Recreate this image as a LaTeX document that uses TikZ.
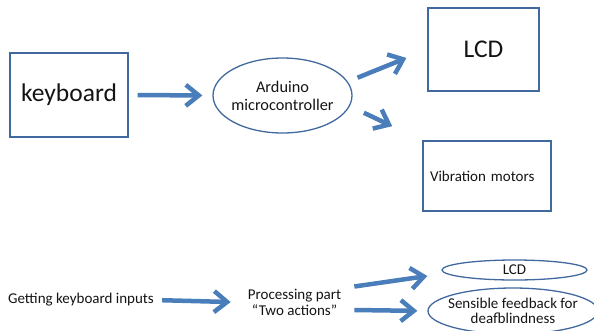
\documentclass[tikz,border=0pt]{standalone}
\usepackage{fontspec}
\setmainfont{Carlito}
\usetikzlibrary{shapes.geometric,arrows.meta}
\definecolor{boxblue}{HTML}{41699F}
\definecolor{arrowblue}{HTML}{4A7EBB}
\definecolor{inktext}{HTML}{141414}

\begin{document}
\begin{tikzpicture}[x=1pt,y=-1pt,
          every node/.style={inner sep=0pt,text=inktext},
          box/.style={draw=boxblue,line width=1.3pt},
          oval/.style={ellipse,draw=boxblue,line width=1.3pt},
          arr/.style={draw=arrowblue,line width=4.5pt,
            -{Straight Barb[length=13pt,width=21pt]}},
          bigtxt/.style={font=\fontsize{25.5}{30}\selectfont},
          smalltxt/.style={font=\fontsize{15}{15.5}\selectfont,align=center}]
        \useasboundingbox (0,0) rectangle (594,330);
        \node[box,bigtxt,minimum width=118pt,minimum height=84pt] (kb) at (69,95) {keyboard};
        \node[oval,minimum width=139pt,minimum height=75pt,
          label={[font=\fontsize{16.3}{18}\selectfont,align=center]center:Arduino\\microcontroller}]
          (ard) at (282.5,95.5) {};
        \node[box,bigtxt,minimum width=111pt,minimum height=83pt] (lcd) at (483.5,49.5) {LCD};
        \node[box,smalltxt,align=left,text width=114pt,minimum width=128pt,minimum height=70pt]
          (vib) at (487,176) {Vibration motors};
        \draw[arr,shorten <=9pt,shorten >=10pt] (kb.east) -- (ard.west);
        \draw[arr,shorten <=10.5pt,shorten >=22.6pt] (ard.12) -- (lcd.west);
        \draw[arr,shorten <=15.5pt,shorten >=33.3pt] (ard.-9) -- (vib.north west);

        \node[smalltxt] (gki) at (81,300) {Getting keyboard inputs};
        \node[smalltxt] (proc) at (294.5,302.5) {Processing part\\“Two actions”};
        \node[oval,smalltxt,minimum width=145pt,minimum height=20pt] (lcd2) at (514.5,270) {LCD};
        \node[oval,minimum width=170pt,minimum height=46pt,
          label={[smalltxt]center:Sensible feedback for\\deafblindness}] (fb) at (513,311) {};
        \draw[arr,shorten <=8pt,shorten >=17pt] (gki.east) -- (proc.west);
        \draw[arr] ([shift={(13,-16)}]proc.east) -- ([shift={(-14,6)}]lcd2.west);
        \draw[arr,shorten >=10pt] ([shift={(13,7.5)}]proc.east) -- (fb.west);
      \end{tikzpicture}
\end{document}
